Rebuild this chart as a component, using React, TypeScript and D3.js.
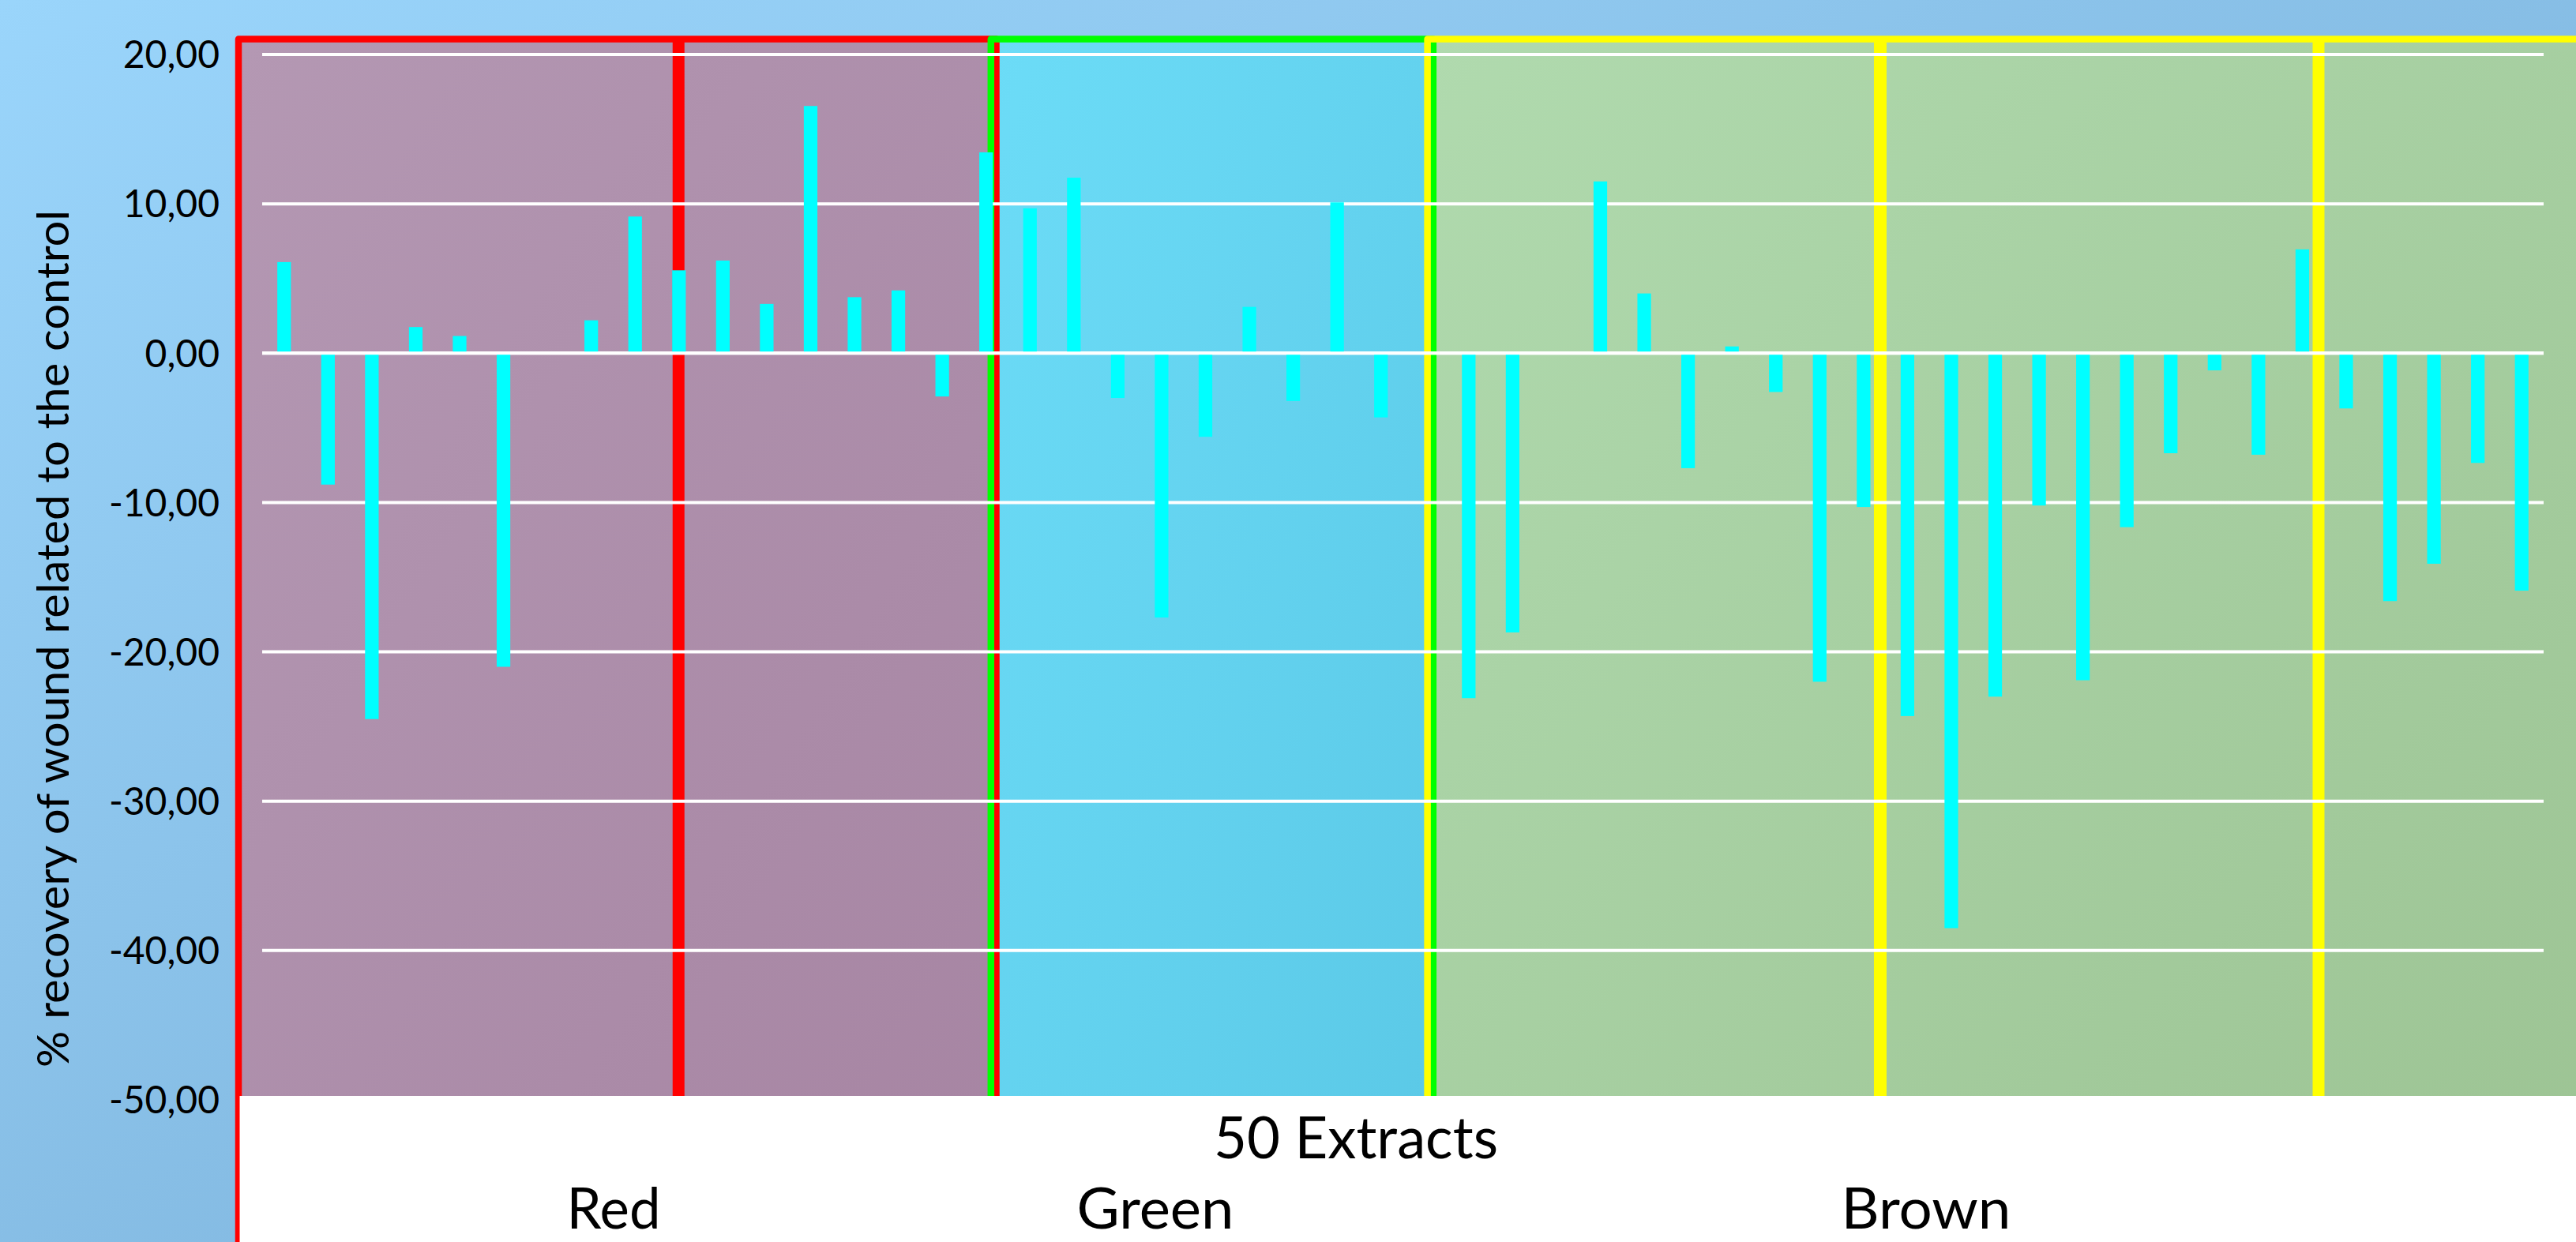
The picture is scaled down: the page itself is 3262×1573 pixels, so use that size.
import React from "react";
import * as d3 from "d3";

// % recovery of wound per extract slot, grouped by extract colour (null = empty slot)
const redValues: (number | null)[] = [6.1, -8.8, -24.5, 1.75, 1.15, -21.0, null, 2.2, 9.15, 5.55, 6.2, 3.3, 16.55, 3.75, 4.2, -2.9, 13.45];
const greenValues: (number | null)[] = [9.7, 11.75, -3.0, -17.7, -5.6, 3.1, -3.2, 10.1, -4.3, null];
const brownValues: (number | null)[] = [-23.1, -18.7, null, 11.5, 4.0, -7.7, 0.45, -2.6, -22.0, -10.3, -24.3, -38.5, -23.0, -10.2, -21.9, -11.65, -6.7, -1.15, -6.8, 6.95, -3.7, -16.6, -14.1, -7.35, -15.9];
const yTicks = [20, 10, 0, -10, -20, -30, -40, -50];
const groupNames = ["Red", "Green", "Brown"];
const xTitle = "50 Extracts";
const yTitle = "% recovery of wound related to the control";

// layout
const W = 3262;
const H = 1573;
const plotLeft = 332;
const plotRight = 3221;
const yTop = 69;
const yBottom = 1393;
const frameTop = 49.5;
const footerTop = 1388;
const FONT = "Lato, 'Open Sans', sans-serif";

// coloured frames around each extract group, in slot units
const frames = [
  { id: "red", stroke: "#ff0000", from: -0.54, to: 16.73, fillA: "#b498b3", fillB: "#a684a2" },
  { id: "green", stroke: "#00ff00", from: 16.61, to: 26.69, fillA: "#6cdcf7", fillB: "#5ac8e6" },
  { id: "yellow", stroke: "#ffff00", from: 26.56, to: 60, fillA: "#b0daae", fillB: "#9cc393" },
];
const dividers = [
  { t: 9.49, stroke: "#ff0000", width: 15 },
  { t: 36.88, stroke: "#ffff00", width: 16 },
  { t: 46.87, stroke: "#ffff00", width: 15 },
];
const groupLabelX = [777, 1463, 2439];
const groupLabelLen = [119, 199, 215];

export default function App() {
  const slots = [...redValues, ...greenValues, ...brownValues];
  const idx = d3.range(slots.length);
  const x = d3.scaleBand<number>().domain(idx).range([plotLeft, plotRight]).paddingInner(0.69).paddingOuter(0.345);
  const y = d3.scaleLinear().domain([-50, 20]).range([yBottom, yTop]);
  const step = x.step();
  const slotX = (t: number) => plotLeft + t * step;
  const fmt = d3.formatLocale({ decimal: ",", thousands: ".", grouping: [3], currency: ["", ""], minus: "-" }).format(".2f");

  return (
    <svg width={W} height={H} style={{ position: "absolute", left: 0, top: 0, display: "block" }}>
      <defs>
        <linearGradient id="bg" x1="0" y1="0" x2="1" y2="1">
          <stop offset="0" stopColor="#9ad5fb" />
          <stop offset="1" stopColor="#74a7d0" />
        </linearGradient>
        {frames.map((f) => (
          <linearGradient key={f.id} id={`fill-${f.id}`} x1="0" y1="0" x2="1" y2="1">
            <stop offset="0" stopColor={f.fillA} />
            <stop offset="1" stopColor={f.fillB} />
          </linearGradient>
        ))}
      </defs>
      <rect x={0} y={0} width={W} height={H} fill="url(#bg)" />

      {/* group backgrounds */}
      {frames.map((f) => {
        const x0 = slotX(f.from);
        const x1 = Math.min(slotX(f.to), W + 20);
        return <rect key={f.id} x={x0} y={frameTop} width={x1 - x0} height={H - frameTop + 20} fill={`url(#fill-${f.id})`} />;
      })}

      {/* group frames */}
      {frames.map((f) => {
        const x0 = slotX(f.from);
        const x1 = Math.min(slotX(f.to), W + 20);
        const d = `M${x0},${H + 20} L${x0},${frameTop} L${x1},${frameTop} L${x1},${H + 20}`;
        return <path key={f.id} d={d} fill="none" stroke={f.stroke} strokeWidth={8.5} strokeLinejoin="round" />;
      })}

      {/* dividers inside groups */}
      {dividers.map((dv, i) => (
        <line key={i} x1={slotX(dv.t)} x2={slotX(dv.t)} y1={frameTop} y2={H} stroke={dv.stroke} strokeWidth={dv.width} />
      ))}

      {/* gridlines */}
      {yTicks.map((v) => (
        <line key={v} x1={plotLeft} x2={plotRight} y1={y(v)} y2={y(v)} stroke="#ffffff" strokeWidth={4} />
      ))}

      {/* bars */}
      {slots.map((v, i) =>
        v === null ? null : (
          <rect key={i} x={x(i)} y={y(Math.max(0, v))} width={x.bandwidth()} height={Math.abs(y(v) - y(0))} fill="#00ffff" />
        )
      )}
      <line x1={plotLeft} x2={plotRight} y1={y(0)} y2={y(0)} stroke="#ffffff" strokeWidth={4} />

      {/* footer */}
      <rect x={303.5} y={footerTop} width={W - 303.5} height={H - footerTop} fill="#ffffff" />

      {/* y tick labels */}
      {yTicks.map((v) => (
        <text key={v} x={278} y={y(v)} dy="0.36em" textAnchor="end" fontFamily={FONT} fontSize={48} fill="#000">
          {fmt(v)}
        </text>
      ))}

      {/* y title */}
      <text
        transform={`translate(87,809) rotate(-90)`}
        textAnchor="middle"
        fontFamily={FONT}
        fontSize={56}
        fill="#000"
        textLength={1086}
        lengthAdjust="spacingAndGlyphs"
      >
        {yTitle}
      </text>

      {/* x title and group names */}
      <text x={1717} y={1467} textAnchor="middle" fontFamily={FONT} fontSize={74} fill="#000" textLength={360} lengthAdjust="spacingAndGlyphs">
        {xTitle}
      </text>
      {groupNames.map((g, i) => (
        <text key={g} x={groupLabelX[i]} y={1556} textAnchor="middle" fontFamily={FONT} fontSize={72} fill="#000" textLength={groupLabelLen[i]} lengthAdjust="spacingAndGlyphs">
          {g}
        </text>
      ))}
    </svg>
  );
}
